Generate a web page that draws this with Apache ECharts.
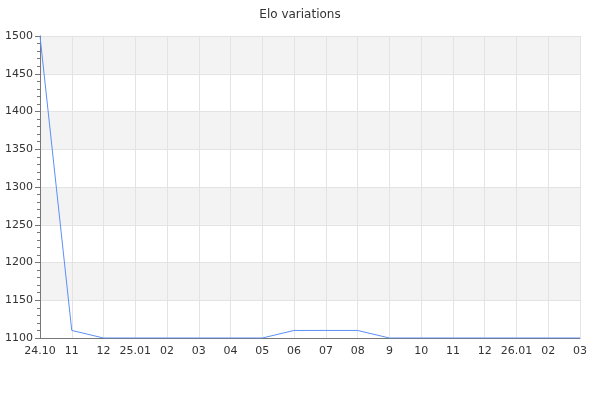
<!DOCTYPE html>
<html><head><meta charset="utf-8">
<script src="https://cdn.jsdelivr.net/npm/echarts@6/dist/echarts.min.js"></script>
<style>html,body{margin:0;padding:0;background:#fff}#c{width:600px;height:400px}</style>
</head><body><div id="c"></div>
<script>
var categories = ['24.10','11','12','25.01','02','03','04','05','06','07','08','9','10','11','12','26.01','02','03'];
var eloValues = [1500,1110,1100,1100,1100,1100,1100,1100,1110,1110,1110,1100,1100,1100,1100,1100,1100,1100];
var yMin = 1100, yMax = 1500, yStep = 50;

var chart = echarts.init(document.getElementById('c'), null, {renderer:'canvas'});
chart.setOption({
  animation:false,
  backgroundColor:'#fff',
  title:{text:'Elo variations',left:'center',top:4,textStyle:{fontFamily:'DejaVu Sans',fontSize:12,fontWeight:'normal',color:'#333'}},
  grid:{left:40,right:20,top:36,bottom:62,containLabel:false},
  xAxis:{type:'category',data:categories,boundaryGap:false,
    axisLine:{lineStyle:{color:'#777'}},axisTick:{show:false},
    axisLabel:{fontFamily:'DejaVu Sans',fontSize:11,color:'#333',margin:8,interval:0},
    splitLine:{show:true,lineStyle:{color:'#e3e3e3'}}},
  yAxis:{type:'value',min:yMin,max:yMax,interval:yStep,
    axisLine:{show:true,lineStyle:{color:'#777'}},
    axisTick:{show:true,length:5,lineStyle:{color:'#777'}},
    minorTick:{show:true,splitNumber:5,length:3,lineStyle:{color:'#777'}},
    axisLabel:{fontFamily:'DejaVu Sans',fontSize:11,color:'#333',margin:7,formatter:function(v){return String(v);}},
    splitLine:{show:true,lineStyle:{color:'#e3e3e3'}},
    splitArea:{show:true,areaStyle:{color:['#ffffff','#f3f3f3']}}},
  series:[{type:'line',data:eloValues,showSymbol:false,symbol:'none',
    lineStyle:{color:'#5b8ff9',width:1}}]
});
</script></body></html>
